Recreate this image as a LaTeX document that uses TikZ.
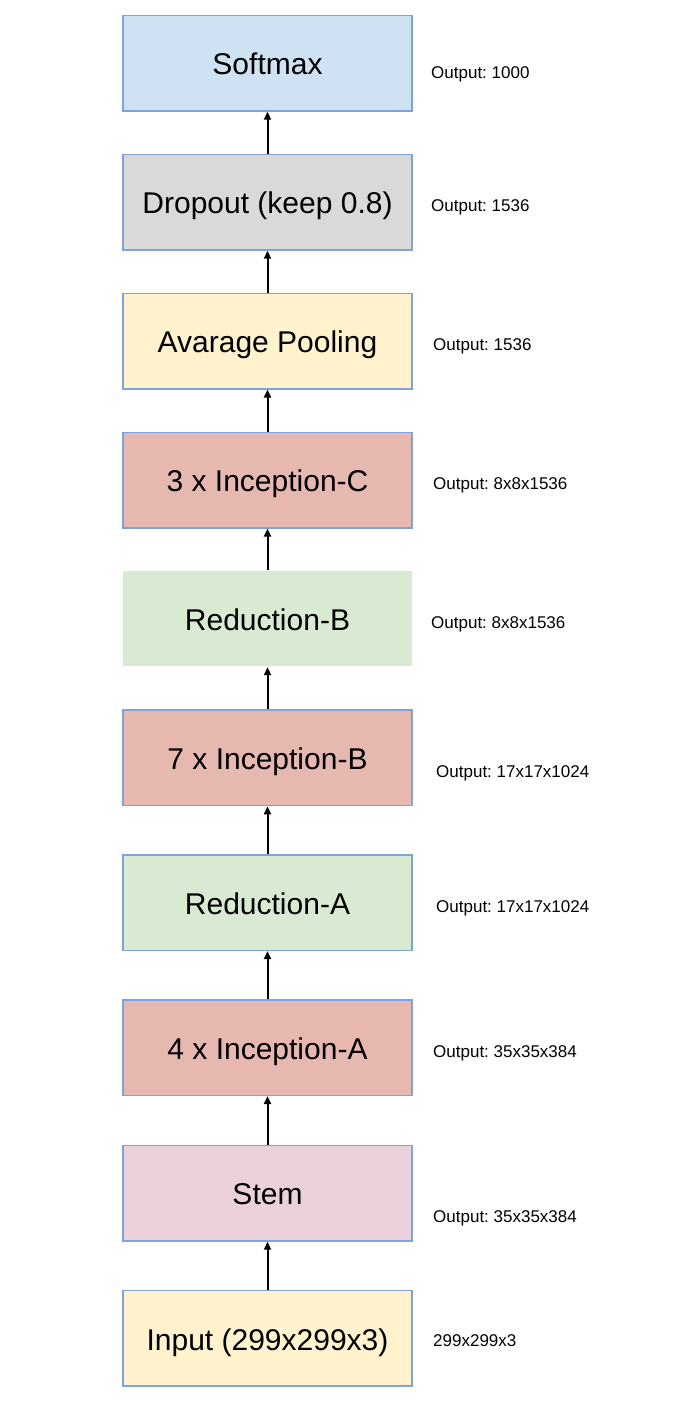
\documentclass[tikz,border=0pt]{standalone}
\usepackage{fontspec}
\setmainfont{Liberation Sans}
\usetikzlibrary{arrows.meta}
\frenchspacing
\definecolor{bordc}{HTML}{7EA3DA}
\definecolor{cblue}{HTML}{CFE2F3}
\definecolor{cgray}{HTML}{D9D9D9}
\definecolor{cyellow}{HTML}{FFF2CC}
\definecolor{cred}{HTML}{E6B8AF}
\definecolor{cgreen}{HTML}{D9EAD3}
\definecolor{cpink}{HTML}{EAD1DC}
\tikzset{
  layer/.style={rectangle, minimum width=289pt, minimum height=95.5pt, inner sep=0pt,
    text height=24pt, text depth=0.5pt,
    draw=bordc, line width=1.5pt, font=\fontsize{30}{36}\selectfont},
  plainlayer/.style={layer, draw=none},
  outlbl/.style={anchor=west, inner sep=0pt, text height=13pt, text depth=0pt,
    font=\fontsize{17}{20}\selectfont},
  flow/.style={-{Triangle[length=8pt,width=7pt]}, line width=2pt, black}
}
\begin{document}
\begin{tikzpicture}[x=1pt,y=-1pt]
\useasboundingbox[fill=white] (0,0) rectangle (699,1407);
\node[layer, fill=cblue]   (softmax) at (267.5,63.2)  {Softmax};
\node[layer, fill=cgray]   (dropout) at (267.5,202.2) {Dropout (keep 0.8)};
\node[layer, fill=cyellow] (avgpool) at (267.5,341)   {Avarage Pooling};
\node[layer, fill=cred]    (incc)    at (267.5,480)   {3 x Inception-C};
\node[plainlayer, fill=cgreen] (redb) at (267.5,618.7) {Reduction-B};
\node[layer, fill=cred]    (incb)    at (267.5,757.9) {7 x Inception-B};
\node[layer, fill=cgreen]  (reda)    at (267.5,902.5) {Reduction-A};
\node[layer, fill=cred]    (inca)    at (267.5,1047.5) {4 x Inception-A};
\node[layer, fill=cpink]   (stem)    at (267.5,1193.2) {Stem};
\node[layer, fill=cyellow] (input)   at (267.5,1338.4) {Input (299x299x3)};

\node[outlbl] (l1)  at (431,72)   {Output: 1000};
\node[outlbl] (l2)  at (431,205)  {Output: 1536};
\node[outlbl] (l3)  at (433,344)  {Output: 1536};
\node[outlbl] (l4)  at (433,483)  {Output: 8x8x1536};
\node[outlbl] (l5)  at (431,622)  {Output: 8x8x1536};
\node[outlbl] (l6)  at (436,771)  {Output: 17x17x1024};
\node[outlbl] (l7)  at (436,906)  {Output: 17x17x1024};
\node[outlbl] (l8)  at (433,1051) {Output: 35x35x384};
\node[outlbl] (l9)  at (433,1216) {Output: 35x35x384};
\node[outlbl] (l10) at (433,1340) {299x299x3};

\draw[flow] (input.north)   -- (stem.south);
\draw[flow] (stem.north)    -- (inca.south);
\draw[flow] (inca.north)    -- (reda.south);
\draw[flow] (reda.north)    -- (incb.south);
\draw[flow] (incb.north)    -- (redb.south);
\draw[flow] (redb.north)    -- (incc.south);
\draw[flow] (incc.north)    -- (avgpool.south);
\draw[flow] (avgpool.north) -- (dropout.south);
\draw[flow] (dropout.north) -- (softmax.south);
\end{tikzpicture}
\end{document}
